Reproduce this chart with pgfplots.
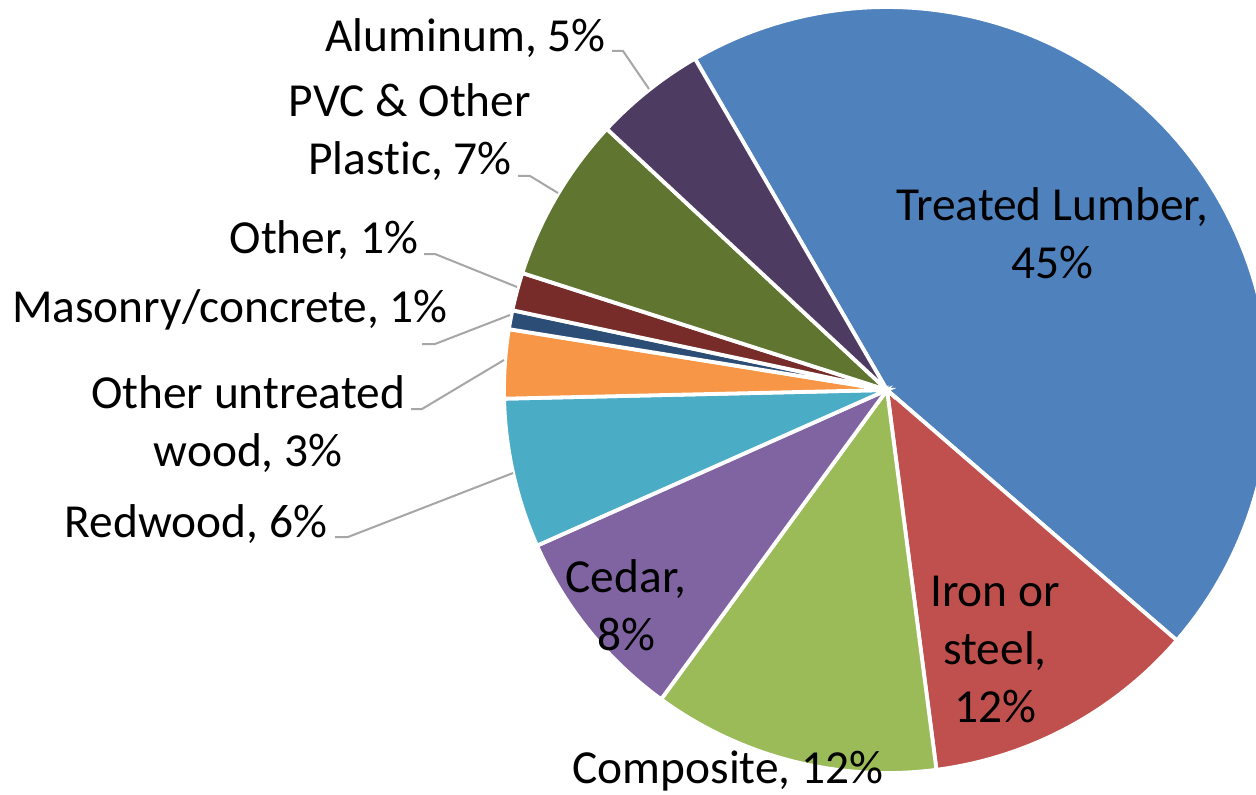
\documentclass[border=0pt]{standalone}
\usepackage{fontspec}
\setmainfont{Carlito}[Ligatures=NoCommon]
\usepackage{pgfplots}
\pgfplotsset{compat=1.18}

\definecolor{cTreated}{HTML}{4F81BD}
\definecolor{cIron}{HTML}{C0504D}
\definecolor{cComposite}{HTML}{9BBB59}
\definecolor{cCedar}{HTML}{8064A2}
\definecolor{cRedwood}{HTML}{4BACC6}
\definecolor{cUntreated}{HTML}{F79646}
\definecolor{cMasonry}{HTML}{2C4D75}
\definecolor{cOther}{HTML}{772C2A}
\definecolor{cPVC}{HTML}{5F7530}
\definecolor{cAlu}{HTML}{4D3B62}
\definecolor{leader}{HTML}{A6A6A6}

\tikzset{lbl/.style={font=\fontsize{23.7}{29}\selectfont, align=center, inner sep=0pt}}

% pie geometry (axis units = pixels of the reference)
\def\cx{887}
\def\cy{404}
\def\rad{383}
\xdef\angA{120.1}

% one wedge: share in percent, fill colour
\newcommand\slice[2]{%
  \pgfmathsetmacro\angB{\angA-3.6*#1}%
  \edef\tmp{\noexpand\addplot[fill=#2, draw=white, line width=1.9pt,
      domain=\angB:\angA, samples=100, variable=\noexpand\t]
    ({\cx+\rad*cos(\noexpand\t)}, {\cy+\rad*sin(\noexpand\t)})
    -- (axis cs:\cx,\cy) -- cycle;}%
  \tmp
  \xdef\angA{\angB}}

\begin{document}
\begin{tikzpicture}
  \begin{axis}[
      scale only axis,
      width=628pt, height=397pt,
      xmin=0, xmax=1256, ymin=0, ymax=794,
      hide axis
    ]
    \slice{44.7}{cTreated}
    \slice{11.6}{cIron}
    \slice{12.1}{cComposite}
    \slice{8.3}{cCedar}
    \slice{6.3}{cRedwood}
    \slice{2.9}{cUntreated}
    \slice{0.8}{cMasonry}
    \slice{1.6}{cOther}
    \slice{7.0}{cPVC}
    \slice{4.7}{cAlu}

    % leader lines
    \addplot[leader, line width=1pt] coordinates {(612,743) (623,743) (649,705)};
    \addplot[leader, line width=1pt] coordinates {(518,618) (530,618) (558,601)};
    \addplot[leader, line width=1pt] coordinates {(424,540) (435,540) (517,507)};
    \addplot[leader, line width=1pt] coordinates {(422,450) (435,450) (510,479)};
    \addplot[leader, line width=1pt] coordinates {(411,385) (422,385) (504,434)};
    \addplot[leader, line width=1pt] coordinates {(335,257) (348,257) (513,321)};

    % labels (base = baseline of the last line)
    \node[lbl, anchor=base east] at (axis cs:606,742) {Aluminum, 5\%};
    \node[lbl, anchor=base] at (axis cs:410,619) {PVC \& Other\\Plastic, 7\%};
    \node[lbl, anchor=base] at (axis cs:324,541) {Other, 1\%};
    \node[lbl, anchor=base] at (axis cs:230,472) {Masonry/concrete, 1\%};
    \node[lbl, anchor=base] at (axis cs:248,328) {Other untreated\\wood, 3\%};
    \node[lbl, anchor=base] at (axis cs:196,257) {Redwood, 6\%};
    \node[lbl, anchor=base] at (axis cs:1052,516) {Treated Lumber,\\45\%};
    \node[lbl, anchor=base] at (axis cs:995,72) {Iron or\\steel,\\12\%};
    \node[lbl, anchor=base] at (axis cs:626,144) {Cedar,\\8\%};
    \node[lbl, anchor=base] at (axis cs:728,11) {Composite, 12\%};
  \end{axis}
  \pgfresetboundingbox
  \path[use as bounding box] (current axis.south west) rectangle (current axis.north east);
\end{tikzpicture}
\end{document}
